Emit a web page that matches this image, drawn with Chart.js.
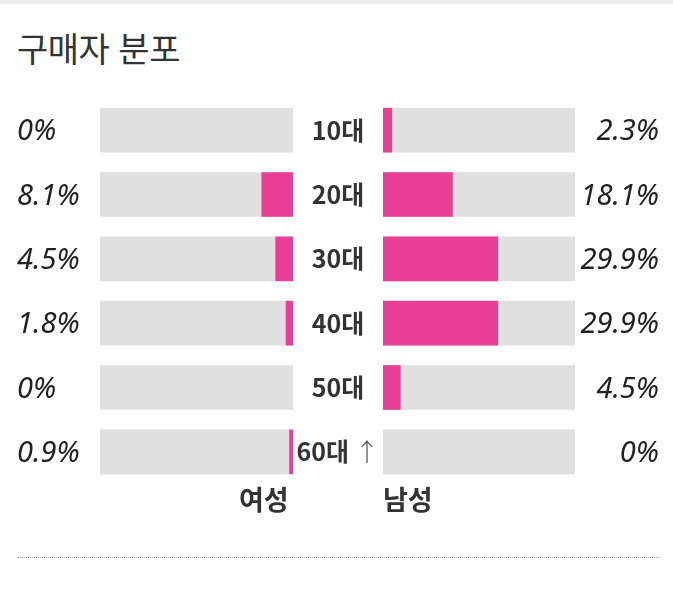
<!DOCTYPE html>
<html lang="ko">
<head>
<meta charset="utf-8">
<script src="https://cdn.jsdelivr.net/npm/chart.js@4"></script>
<style>
  html, body { margin: 0; padding: 0; background: #fff; }
  #wrap { position: relative; width: 673px; height: 592px; overflow: hidden; }
  #topband { position: absolute; left: 0; top: 0; width: 673px; height: 4px; background: #ececec; }
  #title { position: absolute; left: 17px; top: 23px; font: 400 34px "Noto Sans CJK KR", sans-serif; color: #333; letter-spacing: -0.5px; }
  canvas { position: absolute; }
  #female { left: 0; top: 98px; }
  #male { left: 295px; top: 98px; }
  .sex { position: absolute; top: 479px; font: 700 27px "Noto Sans CJK KR", sans-serif; color: #333; }
  #fLabel { left: 239px; }
  #mLabel { left: 383px; }
  #rule { position: absolute; left: 17px; top: 557px; width: 642px; border-top: 1px dotted #aaa; }
</style>
</head>
<body>
<div id="wrap">
  <div id="topband"></div>
  <div id="title">구매자 분포</div>
  <canvas id="female" width="295" height="386"></canvas>
  <canvas id="male" width="378" height="386"></canvas>
  <div class="sex" id="fLabel">여성</div>
  <div class="sex" id="mLabel">남성</div>
  <div id="rule"></div>
</div>
<script>
// data (percent of buyers)
const ageGroups = ['10대', '20대', '30대', '40대', '50대', '60대 ↑'];
const femaleShare = [0, 8.1, 4.5, 1.8, 0, 0.9];
const maleShare = [2.3, 18.1, 29.9, 29.9, 4.5, 0];
const scaleMax = 50;

const PINK = '#ea3f97';
const TRACK = '#e0e0e0';
const valueFont = 'italic 400 29px "Noto Sans", "Open Sans", sans-serif';

function makeConfig(values, reverse, padding, labelPlugin) {
    return {
        type: 'bar',
        data: {
            labels: ageGroups,
            datasets: [
                {
                    // zero values get no bar at all
                    data: values.map(v => (v === 0 ? null : v)),
                    backgroundColor: PINK,
                    barThickness: 44,
                    grouped: false,
                    order: 0
                },
                {
                    data: ageGroups.map(() => scaleMax),
                    backgroundColor: TRACK,
                    barThickness: 44,
                    grouped: false,
                    order: 1
                }
            ]
        },
        options: {
            indexAxis: 'y',
            responsive: false,
            animation: false,
            devicePixelRatio: 1,
            layout: { padding: padding },
            scales: {
                x: { min: 0, max: scaleMax, reverse: reverse, display: false },
                y: { display: false }
            },
            plugins: { legend: { display: false }, tooltip: { enabled: false } }
        },
        plugins: [labelPlugin]
    };
}

// percent labels on the far left
const femaleLabels = {
    id: 'femaleLabels',
    afterDatasetsDraw(chart) {
        const ctx = chart.ctx;
        const meta = chart.getDatasetMeta(1);
        ctx.save();
        ctx.font = valueFont;
        ctx.fillStyle = '#222';
        ctx.textAlign = 'left';
        ctx.textBaseline = 'middle';
        meta.data.forEach((bar, i) => {
            ctx.fillText(femaleShare[i] + '%', 17, bar.y + 2);
        });
        ctx.restore();
    }
};

// age labels in the middle + percent labels on the far right
const maleLabels = {
    id: 'maleLabels',
    afterDatasetsDraw(chart) {
        const ctx = chart.ctx;
        const meta = chart.getDatasetMeta(1);
        ctx.save();
        ctx.textBaseline = 'middle';
        meta.data.forEach((bar, i) => {
            const parts = ageGroups[i].split(' ');
            const boldFont = '700 25px "Noto Sans CJK KR", sans-serif';
            const thinFont = '300 25px "Noto Sans CJK KR", sans-serif';
            ctx.font = boldFont;
            const w1 = ctx.measureText(parts[0]).width;
            let w2 = 0;
            if (parts[1]) {
                ctx.font = thinFont;
                w2 = ctx.measureText(' ' + parts[1]).width;
            }
            let x = 43 - (w1 + w2) / 2;
            ctx.textAlign = 'left';
            ctx.font = boldFont;
            ctx.fillStyle = '#333';
            ctx.fillText(parts[0], x, bar.y);
            if (parts[1]) {
                ctx.font = thinFont;
                ctx.fillStyle = '#555';
                ctx.fillText(' ' + parts[1], x + w1, bar.y);
            }

            ctx.font = valueFont;
            ctx.fillStyle = '#222';
            ctx.textAlign = 'right';
            ctx.fillText(maleShare[i] + '%', 364, bar.y + 2);
        });
        ctx.restore();
    }
};

new Chart(document.getElementById('female'),
    makeConfig(femaleShare, true, { left: 100, right: 2, top: 0, bottom: 0 }, femaleLabels));
new Chart(document.getElementById('male'),
    makeConfig(maleShare, false, { left: 88, right: 98, top: 0, bottom: 0 }, maleLabels));
</script>
</body>
</html>
